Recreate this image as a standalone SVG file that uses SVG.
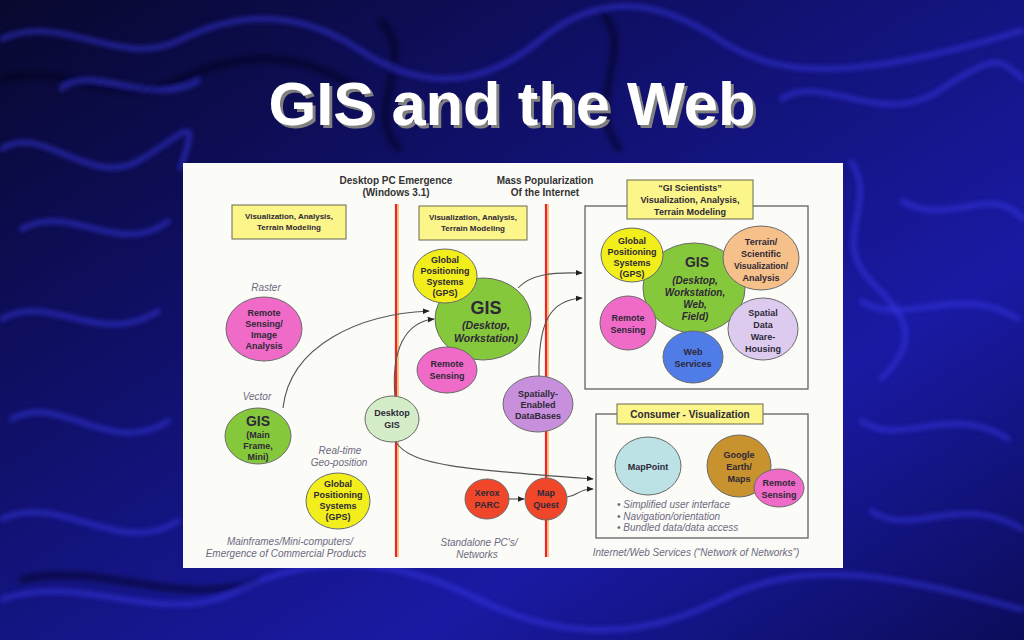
<svg xmlns="http://www.w3.org/2000/svg" width="1024" height="640" viewBox="0 0 1024 640">
<defs>
<linearGradient id="bg" x1="0" y1="0" x2="1" y2="1">
<stop offset="0" stop-color="#08082e"/>
<stop offset="0.35" stop-color="#10106a"/>
<stop offset="0.7" stop-color="#1a1aa4"/>
<stop offset="1" stop-color="#0c0c5a"/>
</linearGradient>
<filter id="blur" x="-10%" y="-10%" width="120%" height="120%"><feGaussianBlur stdDeviation="2.5"/></filter>
<filter id="shadow" x="-5%" y="-20%" width="110%" height="140%">
<feDropShadow dx="3" dy="3" stdDeviation="0.6" flood-color="#808080" flood-opacity="1"/>
</filter>
<marker id="arr" viewBox="0 0 10 10" refX="9" refY="5" markerWidth="7" markerHeight="7" orient="auto" markerUnits="userSpaceOnUse">
<path d="M0,1 L10,5 L0,9 z" fill="#222"/>
</marker>
<style>
.t{font-family:"Liberation Sans",Arial,sans-serif;font-weight:bold;text-anchor:middle;fill:#2e2836}
.s9{font-size:9px}
.s8{font-size:8px}
.it{font-family:"Liberation Sans",Arial,sans-serif;font-style:italic;text-anchor:middle;fill:#6e6a80;font-size:10px}
.hd{font-family:"Liberation Sans",Arial,sans-serif;font-weight:bold;text-anchor:middle;fill:#333;font-size:10px}
.ybox{fill:#fbf58a;stroke:#6a6a50;stroke-width:1}
.frame{fill:none;stroke:#555;stroke-width:1.2}
.conn{fill:none;stroke:#555;stroke-width:1.1;marker-end:url(#arr)}
.el{stroke:#6a6a6a;stroke-width:1}
.pink{fill:#f06ac8}
.green{fill:#86c83c}
.yellow{fill:#f2ee1c}
.lgreen{fill:#d4edc8}
.purple{fill:#c890dc}
.red{fill:#f0462a}
.orange{fill:#f6c08a}
.lav{fill:#dccbef}
.blue{fill:#4f7ce6}
.lblue{fill:#bde2e6}
.gold{fill:#c8922e}
.wave{fill:none;stroke:#3a3af0;stroke-width:5;opacity:0.55}
.wave2{fill:none;stroke:#000010;stroke-width:7;opacity:0.5}
</style>
</defs>

<g id="background">
<rect x="0" y="0" width="1024" height="640" fill="url(#bg)"/>
<g filter="url(#blur)">
<path class="wave2" d="M0,80 C60,60 120,110 180,80 S300,50 360,90"/>
<path class="wave2" d="M380,20 C420,60 360,110 400,150"/>
<path class="wave2" d="M600,10 C640,50 580,100 620,150"/>
<path class="wave2" d="M20,580 C100,560 180,610 260,580"/>
<path class="wave" d="M0,40 C60,10 120,70 180,40 S300,10 360,50 S480,90 540,40 S660,0 720,40 S860,80 1024,30"/>
<path class="wave" d="M0,150 C40,120 90,190 140,160 S200,110 180,170"/>
<path class="wave" d="M20,230 C70,200 120,260 170,220"/>
<path class="wave" d="M0,320 C50,290 100,350 160,310"/>
<path class="wave" d="M10,420 C60,390 110,460 170,420"/>
<path class="wave" d="M0,520 C60,490 120,560 180,520"/>
<path class="wave" d="M0,600 C80,570 160,630 240,590 S400,560 480,600 S640,640 720,600 S880,570 1024,610"/>
<path class="wave" d="M850,160 C880,200 830,240 870,280 S920,340 880,380"/>
<path class="wave" d="M900,200 C950,230 990,180 1024,220"/>
<path class="wave" d="M860,420 C900,450 950,400 1010,440"/>
<path class="wave" d="M870,510 C910,540 960,490 1024,530"/>
<path class="wave" d="M780,100 C820,70 880,130 940,90 S1000,60 1024,80"/>
<path class="wave" d="M60,90 C90,60 150,110 200,80"/>
<path class="wave" d="M860,300 C900,330 960,280 1020,320"/>
</g>
</g>

<g id="title">
<text x="512" y="125" font-family="Liberation Sans,Arial,sans-serif" font-weight="bold" font-size="61" text-anchor="middle" fill="#ffffff" filter="url(#shadow)" textLength="487" lengthAdjust="spacingAndGlyphs">GIS and the Web</text>
</g>

<rect id="panel" x="183" y="163" width="660" height="405" fill="#fbfbf8"/>

<g id="eras">
<line x1="396" y1="204" x2="396" y2="557" stroke="#e8242c" stroke-width="2.2"/>
<line x1="398" y1="204" x2="398" y2="557" stroke="#f6a030" stroke-width="1.2"/>
<line x1="546" y1="204" x2="546" y2="557" stroke="#e8242c" stroke-width="2.2"/>
<line x1="548" y1="204" x2="548" y2="557" stroke="#f6a030" stroke-width="1.2"/>
<text class="hd" x="396" y="184">Desktop PC Emergence</text>
<text class="hd" x="396" y="196">(Windows 3.1)</text>
<text class="hd" x="545" y="184">Mass Popularization</text>
<text class="hd" x="545" y="196">Of the Internet</text>
</g>

<g id="box-vis1">
<rect class="ybox" x="232" y="205" width="114" height="34"/>
<text class="t s8" x="289" y="219">Visualization, Analysis,</text>
<text class="t s8" x="289" y="230">Terrain Modeling</text>
</g>
<g id="box-vis2">
<rect class="ybox" x="419" y="206" width="108" height="34"/>
<text class="t s8" x="473" y="220">Visualization, Analysis,</text>
<text class="t s8" x="473" y="231">Terrain Modeling</text>
</g>

<g id="frame-gi">
<rect class="frame" x="585" y="206" width="223" height="183"/>
</g>
<g id="box-gi">
<rect class="ybox" x="627" y="180" width="126" height="39"/>
<text class="t s9" x="690" y="191">“GI Scientists”</text>
<text class="t s9" x="690" y="203">Visualization, Analysis,</text>
<text class="t s9" x="690" y="215">Terrain Modeling</text>
</g>

<g id="frame-consumer">
<rect class="frame" x="596" y="414" width="212" height="124"/>
</g>
<g id="box-consumer">
<rect class="ybox" x="617" y="404" width="146" height="20"/>
<text class="t" x="690" y="418" font-size="10">Consumer - Visualization</text>
</g>

<g id="labels">
<text class="it" x="266" y="291">Raster</text>
<text class="it" x="257" y="400">Vector</text>
<text class="it" x="340" y="454">Real-time</text>
<text class="it" x="339" y="466">Geo-position</text>
<text class="it" x="290" y="545">Mainframes/Mini-computers/</text>
<text class="it" x="286" y="557">Emergence of Commercial Products</text>
<text class="it" x="479" y="546">Standalone PC's/</text>
<text class="it" x="477" y="558">Networks</text>
<text class="it" x="696" y="556">Internet/Web Services (“Network of Networks”)</text>
</g>

<g id="connectors">
<path class="conn" d="M283,408 C290,345 360,314 429,311"/>
<path class="conn" d="M395,397 C391,350 405,322 434,319"/>
<path class="conn" d="M396,442 C410,466 470,470 593,479"/>
<path class="conn" d="M509,499 L524,499"/>
<path class="conn" d="M567,497 C578,496 578,489 593,489"/>
<path class="conn" d="M518,288 C530,275 550,272 582,273"/>
<path class="conn" d="M539,376 C538,322 550,300 582,298"/>
</g>

<g id="rs-raster">
<ellipse class="el pink" cx="264" cy="329" rx="38" ry="32"/>
<text class="t s9" x="264" y="316">Remote</text>
<text class="t s9" x="264" y="327">Sensing/</text>
<text class="t s9" x="264" y="338">Image</text>
<text class="t s9" x="264" y="349">Analysis</text>
</g>
<g id="gis-mainframe">
<ellipse class="el green" cx="258" cy="436" rx="33" ry="28"/>
<text class="t" x="258" y="426" font-size="14">GIS</text>
<text class="t s9" x="258" y="438">(Main</text>
<text class="t s9" x="258" y="449">Frame,</text>
<text class="t s9" x="258" y="460">Mini)</text>
</g>
<g id="gps-left">
<ellipse class="el yellow" cx="338" cy="501" rx="32" ry="28"/>
<text class="t s9" x="338" y="487">Global</text>
<text class="t s9" x="338" y="498">Positioning</text>
<text class="t s9" x="338" y="509">Systems</text>
<text class="t s9" x="338" y="520">(GPS)</text>
</g>

<g id="gis-desktop">
<ellipse class="el green" cx="483" cy="319" rx="48" ry="41"/>
<text class="t" x="486" y="314" font-size="18">GIS</text>
<text class="t" x="486" y="329" font-size="10.5" font-style="italic" font-weight="normal">(Desktop,</text>
<text class="t" x="486" y="342" font-size="10.5" font-style="italic" font-weight="normal">Workstation)</text>
</g>
<g id="gps-mid">
<ellipse class="el yellow" cx="445" cy="276" rx="32" ry="27"/>
<text class="t s9" x="445" y="263">Global</text>
<text class="t s9" x="445" y="274">Positioning</text>
<text class="t s9" x="445" y="285">Systems</text>
<text class="t s9" x="445" y="296">(GPS)</text>
</g>
<g id="rs-mid">
<ellipse class="el pink" cx="447" cy="370" rx="30" ry="23"/>
<text class="t s9" x="447" y="367">Remote</text>
<text class="t s9" x="447" y="379">Sensing</text>
</g>
<g id="desktop-gis">
<ellipse class="el lgreen" cx="392" cy="419" rx="27" ry="23"/>
<text class="t s9" x="392" y="416">Desktop</text>
<text class="t s9" x="392" y="428">GIS</text>
</g>
<g id="spatial-db">
<ellipse class="el purple" cx="538" cy="404" rx="35" ry="28"/>
<text class="t s9" x="538" y="397">Spatially-</text>
<text class="t s9" x="538" y="408">Enabled</text>
<text class="t s9" x="538" y="419">DataBases</text>
</g>
<g id="xerox">
<ellipse class="el red" cx="487" cy="499" rx="22" ry="20"/>
<text class="t s9" x="487" y="496">Xerox</text>
<text class="t s9" x="487" y="508">PARC</text>
</g>
<g id="mapquest">
<ellipse class="el red" cx="546" cy="499" rx="21" ry="21"/>
<text class="t s9" x="546" y="496">Map</text>
<text class="t s9" x="546" y="508">Quest</text>
</g>

<g id="gis-web">
<ellipse class="el green" cx="694" cy="288" rx="51" ry="45"/>
<text class="t" x="697" y="267" font-size="14">GIS</text>
<text class="t" x="695" y="284" font-size="10" font-style="italic" font-weight="normal">(Desktop,</text>
<text class="t" x="695" y="296" font-size="10" font-style="italic" font-weight="normal">Workstation,</text>
<text class="t" x="695" y="308" font-size="10" font-style="italic" font-weight="normal">Web,</text>
<text class="t" x="695" y="320" font-size="10" font-style="italic" font-weight="normal">Field)</text>
</g>
<g id="gps-right">
<ellipse class="el yellow" cx="632" cy="255" rx="31" ry="27"/>
<text class="t s9" x="632" y="244">Global</text>
<text class="t s9" x="632" y="255">Positioning</text>
<text class="t s9" x="632" y="266">Systems</text>
<text class="t s9" x="632" y="277">(GPS)</text>
</g>
<g id="terrain">
<ellipse class="el orange" cx="761" cy="258" rx="38" ry="32"/>
<text class="t s9" x="761" y="245">Terrain/</text>
<text class="t s9" x="761" y="257">Scientific</text>
<text class="t" x="761" y="269" font-size="8.5">Visualization/</text>
<text class="t s9" x="761" y="281">Analysis</text>
</g>
<g id="rs-right">
<ellipse class="el pink" cx="628" cy="323" rx="28" ry="27"/>
<text class="t s9" x="628" y="321">Remote</text>
<text class="t s9" x="628" y="333">Sensing</text>
</g>
<g id="warehousing">
<ellipse class="el lav" cx="763" cy="329" rx="35" ry="31"/>
<text class="t s9" x="763" y="316">Spatial</text>
<text class="t s9" x="763" y="328">Data</text>
<text class="t s9" x="763" y="340">Ware-</text>
<text class="t s9" x="763" y="352">Housing</text>
</g>
<g id="web-services">
<ellipse class="el blue" cx="693" cy="357" rx="30" ry="26"/>
<text class="t s9" x="693" y="355">Web</text>
<text class="t s9" x="693" y="367">Services</text>
</g>

<g id="mappoint">
<ellipse class="el lblue" cx="648" cy="466" rx="33" ry="29"/>
<text class="t s9" x="648" y="470">MapPoint</text>
</g>
<g id="google-earth">
<ellipse class="el gold" cx="739" cy="466" rx="32" ry="31"/>
<text class="t s9" x="739" y="458">Google</text>
<text class="t s9" x="739" y="470">Earth/</text>
<text class="t s9" x="739" y="482">Maps</text>
</g>
<g id="rs-consumer">
<ellipse class="el pink" cx="779" cy="488" rx="25" ry="19"/>
<text class="t s9" x="779" y="486">Remote</text>
<text class="t s9" x="779" y="498">Sensing</text>
</g>
<g id="bullets">
<text class="it" x="617" y="508" style="text-anchor:start">• Simplified user interface</text>
<text class="it" x="617" y="520" style="text-anchor:start">• Navigation/orientation</text>
<text class="it" x="617" y="531" style="text-anchor:start">• Bundled data/data access</text>
</g>
</svg>
